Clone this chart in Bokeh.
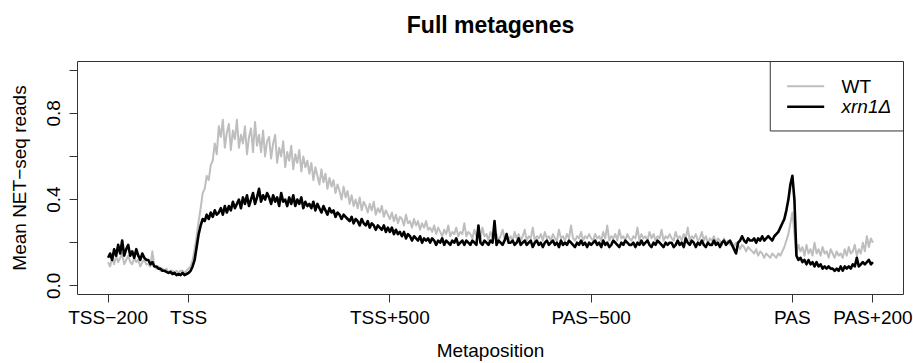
from bokeh.plotting import figure
from bokeh.models import Range1d, FixedTicker, BoxAnnotation, Label, Title
from bokeh.embed import file_html
from bokeh.resources import INLINE

# Metagene coordinate: TSS at 0, gene body scaled so that PAS sits at 1500
metaposition = list(range(-200, 1701, 5))

# Mean NET-seq reads per metaposition, wild type
wt = [
    0.11, 0.09, 0.13, 0.10, 0.14, 0.11, 0.13, 0.15, 0.10, 0.12, 0.14, 0.11, 0.10, 0.13, 0.11, 0.12, 0.09, 0.11, 0.12, 0.10,
    0.10, 0.09, 0.16, 0.09, 0.08, 0.09, 0.07, 0.08, 0.07, 0.08, 0.06, 0.07, 0.07, 0.06, 0.07, 0.06, 0.07, 0.07, 0.06, 0.07,
    0.08, 0.09, 0.12, 0.17, 0.23, 0.30, 0.36, 0.43, 0.45, 0.51, 0.49, 0.56, 0.58, 0.66, 0.61, 0.74, 0.69, 0.77, 0.64, 0.71,
    0.75, 0.63, 0.72, 0.68, 0.77, 0.64, 0.70, 0.66, 0.74, 0.61, 0.69, 0.73, 0.62, 0.76, 0.65, 0.70, 0.62, 0.72, 0.60, 0.67,
    0.69, 0.59, 0.66, 0.70, 0.57, 0.64, 0.60, 0.67, 0.55, 0.62, 0.58, 0.65, 0.54, 0.61, 0.57, 0.63, 0.53, 0.60, 0.55, 0.58,
    0.52, 0.57, 0.49, 0.55, 0.51, 0.47, 0.54, 0.48, 0.52, 0.45, 0.50, 0.46, 0.49, 0.43, 0.47, 0.44, 0.40, 0.46, 0.41, 0.44,
    0.38, 0.42, 0.37, 0.40, 0.36, 0.41, 0.35, 0.39, 0.37, 0.34, 0.38, 0.35, 0.39, 0.33, 0.36, 0.34, 0.37, 0.32, 0.35, 0.33,
    0.31, 0.34, 0.30, 0.33, 0.29, 0.32, 0.31, 0.28, 0.33, 0.29, 0.30, 0.27, 0.31, 0.28, 0.30, 0.26, 0.29, 0.27, 0.30, 0.26,
    0.27, 0.25, 0.28, 0.24, 0.27, 0.25, 0.23, 0.26, 0.24, 0.28, 0.23, 0.25, 0.24, 0.27, 0.23, 0.25, 0.24, 0.29, 0.23, 0.25,
    0.24, 0.22, 0.26, 0.23, 0.25, 0.22, 0.27, 0.23, 0.24, 0.21, 0.25, 0.23, 0.22, 0.24, 0.21, 0.23, 0.26, 0.22, 0.24, 0.21,
    0.23, 0.21, 0.25, 0.22, 0.24, 0.21, 0.23, 0.26, 0.21, 0.23, 0.22, 0.27, 0.21, 0.23, 0.22, 0.24, 0.21, 0.25, 0.22, 0.23,
    0.21, 0.24, 0.22, 0.21, 0.26, 0.22, 0.23, 0.21, 0.24, 0.22, 0.28, 0.22, 0.21, 0.23, 0.22, 0.25, 0.21, 0.23, 0.22, 0.24,
    0.22, 0.21, 0.24, 0.22, 0.23, 0.21, 0.25, 0.22, 0.28, 0.21, 0.23, 0.22, 0.24, 0.21, 0.26, 0.22, 0.23, 0.21, 0.24, 0.22,
    0.21, 0.23, 0.22, 0.27, 0.21, 0.24, 0.22, 0.23, 0.21, 0.25, 0.22, 0.24, 0.21, 0.23, 0.22, 0.26, 0.21, 0.23, 0.22, 0.24,
    0.22, 0.21, 0.25, 0.22, 0.23, 0.21, 0.24, 0.22, 0.27, 0.21, 0.23, 0.22, 0.24, 0.21, 0.22, 0.25, 0.21, 0.23, 0.20, 0.22,
    0.21, 0.23, 0.20, 0.22, 0.21, 0.19, 0.22, 0.20, 0.21, 0.19, 0.20, 0.18, 0.20, 0.19, 0.17, 0.19, 0.18, 0.16, 0.18, 0.17,
    0.16, 0.15, 0.17, 0.14, 0.16, 0.15, 0.13, 0.15, 0.14, 0.13, 0.15, 0.14, 0.13, 0.15, 0.14, 0.16, 0.18, 0.21, 0.24, 0.29,
    0.34, 0.24, 0.15, 0.19, 0.16, 0.18, 0.14, 0.19, 0.15, 0.17, 0.14, 0.20, 0.15, 0.17, 0.14, 0.18, 0.15, 0.16, 0.13, 0.17,
    0.15, 0.13, 0.16, 0.14, 0.15, 0.13, 0.17, 0.14, 0.18, 0.15, 0.16, 0.19, 0.14, 0.17, 0.15, 0.20, 0.16, 0.23, 0.18, 0.22,
    0.20,
]

# Mean NET-seq reads per metaposition, xrn1 deletion
xrn1 = [
    0.13, 0.15, 0.12, 0.17, 0.14, 0.19, 0.15, 0.21, 0.14, 0.17, 0.19, 0.14, 0.16, 0.13, 0.17, 0.14, 0.12, 0.15, 0.13, 0.12,
    0.12, 0.10, 0.11, 0.09, 0.09, 0.08, 0.08, 0.07, 0.07, 0.065, 0.06, 0.065, 0.055, 0.06, 0.05, 0.055, 0.05, 0.06, 0.05, 0.055,
    0.06, 0.07, 0.09, 0.12, 0.18, 0.24, 0.28, 0.31, 0.30, 0.33, 0.31, 0.34, 0.32, 0.35, 0.33, 0.34, 0.36, 0.33, 0.37, 0.34,
    0.37, 0.35, 0.39, 0.36, 0.38, 0.40, 0.36, 0.41, 0.38, 0.42, 0.37, 0.40, 0.43, 0.38, 0.41, 0.45, 0.39, 0.42, 0.40, 0.43,
    0.41, 0.38, 0.42, 0.39, 0.41, 0.37, 0.43, 0.39, 0.40, 0.37, 0.41, 0.38, 0.42, 0.37, 0.40, 0.38, 0.41, 0.36, 0.39, 0.37,
    0.38, 0.36, 0.39, 0.35, 0.38, 0.36, 0.34, 0.37, 0.35, 0.33, 0.36, 0.34, 0.35, 0.32, 0.34, 0.33, 0.31, 0.33, 0.32, 0.31,
    0.30, 0.32, 0.29, 0.31, 0.30, 0.28, 0.31, 0.29, 0.28, 0.30, 0.27, 0.29, 0.28, 0.26, 0.28, 0.27, 0.26, 0.28, 0.25, 0.27,
    0.25, 0.27, 0.24, 0.26, 0.24, 0.25, 0.23, 0.25, 0.22, 0.24, 0.23, 0.21, 0.23, 0.22, 0.21, 0.23, 0.20, 0.22, 0.21, 0.22,
    0.20, 0.22, 0.21, 0.19, 0.21, 0.20, 0.22, 0.19, 0.21, 0.20, 0.19, 0.21, 0.20, 0.22, 0.19, 0.20, 0.21, 0.19, 0.21, 0.20,
    0.19, 0.21, 0.20, 0.19, 0.28, 0.20, 0.19, 0.21, 0.20, 0.19, 0.21, 0.20, 0.30, 0.19, 0.21, 0.20, 0.19, 0.21, 0.24, 0.20,
    0.20, 0.21, 0.19, 0.20, 0.22, 0.19, 0.20, 0.21, 0.19, 0.20, 0.21, 0.18, 0.20, 0.21, 0.19, 0.20, 0.18, 0.20, 0.21, 0.19,
    0.20, 0.21, 0.19, 0.20, 0.18, 0.21, 0.19, 0.20, 0.19, 0.21, 0.20, 0.19, 0.18, 0.20, 0.19, 0.21, 0.19, 0.20, 0.18, 0.20,
    0.19, 0.20, 0.21, 0.19, 0.20, 0.18, 0.21, 0.19, 0.20, 0.18, 0.19, 0.21, 0.20, 0.19, 0.18, 0.20, 0.19, 0.21, 0.20, 0.19,
    0.19, 0.20, 0.18, 0.20, 0.19, 0.21, 0.19, 0.20, 0.21, 0.19, 0.18, 0.20, 0.19, 0.21, 0.20, 0.19, 0.18, 0.20, 0.19, 0.20,
    0.20, 0.18, 0.19, 0.21, 0.19, 0.20, 0.18, 0.22, 0.20, 0.19, 0.21, 0.20, 0.18, 0.20, 0.19, 0.21, 0.19, 0.18, 0.20, 0.19,
    0.19, 0.21, 0.19, 0.20, 0.18, 0.20, 0.21, 0.19, 0.20, 0.21, 0.19, 0.17, 0.15, 0.20, 0.21, 0.23, 0.21, 0.20, 0.22, 0.21,
    0.21, 0.22, 0.20, 0.22, 0.21, 0.23, 0.21, 0.22, 0.23, 0.22, 0.21, 0.23, 0.24, 0.25, 0.27, 0.29, 0.31, 0.35, 0.40, 0.47,
    0.51, 0.40, 0.14, 0.12, 0.13, 0.11, 0.12, 0.10, 0.12, 0.10, 0.11, 0.09, 0.11, 0.09, 0.10, 0.08, 0.09, 0.08, 0.09, 0.08,
    0.08, 0.07, 0.08, 0.07, 0.09, 0.07, 0.09, 0.08, 0.09, 0.08, 0.10, 0.09, 0.13, 0.09, 0.10, 0.11, 0.10, 0.11, 0.12, 0.10,
    0.11,
]

x_ticks = [-200, 0, 500, 1000, 1500, 1700]
x_tick_labels = ["TSS\u2212200", "TSS", "TSS+500", "PAS\u2212500", "PAS", "PAS+200"]
y_ticks = [0.0, 0.2, 0.4, 0.6, 0.8, 1.0]
y_tick_labels = ["0.0", "", "0.4", "", "0.8", ""]

series_names = ["WT", "xrn1\u0394"]
series_colors = ["#bebebe", "#000000"]

FONT = "Liberation Sans"

# R-style limits: data range padded by 4% on each side
x_lo, x_hi = -200, 1700
pad_x = 0.04 * (x_hi - x_lo)
y_lo, y_hi = 0.0, 1.0
pad_y = 0.04 * (y_hi - y_lo)

p = figure(
    width=913, height=363,
    x_range=Range1d(x_lo - pad_x, x_hi + pad_x),
    y_range=Range1d(y_lo - pad_y, y_hi + pad_y),
    output_backend="svg", toolbar_location=None,
    min_border_left=77, min_border_right=10,
    min_border_top=61, min_border_bottom=63,
    title="Full metagenes",
)
p.background_fill_color = "white"
p.border_fill_color = "white"
p.outline_line_color = "#333333"
p.outline_line_width = 1
p.xgrid.visible = False
p.ygrid.visible = False

# Blank spacer between the frame and the title, so the title sits higher
p.add_layout(Title(text=" ", text_font_size="1px", standoff=13), "above")

p.title.align = "center"
p.title.text_font = FONT
p.title.text_font_size = "23px"
p.title.text_font_style = "bold"
p.title.text_color = "black"
p.title.standoff = 15

for ax in (p.xaxis[0], p.yaxis[0]):
    ax.axis_line_color = None
    ax.major_tick_line_color = "#333333"
    ax.major_tick_out = 8
    ax.major_tick_in = 0
    ax.minor_tick_line_color = None
    ax.major_label_text_font = FONT
    ax.major_label_text_font_size = "19px"
    ax.major_label_text_color = "black"
    ax.axis_label_text_font = FONT
    ax.axis_label_text_font_size = "19px"
    ax.axis_label_text_font_style = "normal"
    ax.axis_label_text_color = "black"

p.xaxis.ticker = FixedTicker(ticks=x_ticks)
p.xaxis.major_label_overrides = dict(zip(x_ticks, x_tick_labels))
p.xaxis.axis_label = "Metaposition"
p.xaxis.major_label_standoff = 4
p.xaxis.axis_label_standoff = 9

p.yaxis.ticker = FixedTicker(ticks=y_ticks)
p.yaxis.major_label_overrides = dict(zip(y_ticks, y_tick_labels))
p.yaxis.major_label_orientation = "vertical"
p.yaxis.axis_label = "Mean NET\u2212seq reads"
p.yaxis.major_label_standoff = 9
p.yaxis.axis_label_standoff = 15

# Profiles: wild type underneath, mutant on top
p.line(metaposition, wt, line_color=series_colors[0], line_width=2, line_join="round")
p.line(metaposition, xrn1, line_color=series_colors[1], line_width=2.6, line_join="round")

# Legend box in the top-right corner, drawn by hand so the mutant name can be italic
leg_left = 1445
leg_bottom = 0.718
p.add_layout(BoxAnnotation(left=leg_left, bottom=leg_bottom,
                           fill_alpha=0, line_color="#333333", line_width=1,
                           line_alpha=1))
row_y = [0.925, 0.83]
swatch_x0, swatch_x1 = 1487, 1579
text_x = 1622
p.segment(x0=[swatch_x0], y0=[row_y[0]], x1=[swatch_x1], y1=[row_y[0]],
          line_color=series_colors[0], line_width=2)
p.segment(x0=[swatch_x0], y0=[row_y[1]], x1=[swatch_x1], y1=[row_y[1]],
          line_color=series_colors[1], line_width=2.6)
for name, yy, style in zip(series_names, row_y, ["normal", "italic"]):
    p.add_layout(Label(x=text_x, y=yy, text=name, text_font=FONT,
                       text_font_size="19px", text_font_style=style,
                       text_baseline="middle", text_align="left",
                       text_color="black"))

open("out.html", "w").write(file_html(p, INLINE))
